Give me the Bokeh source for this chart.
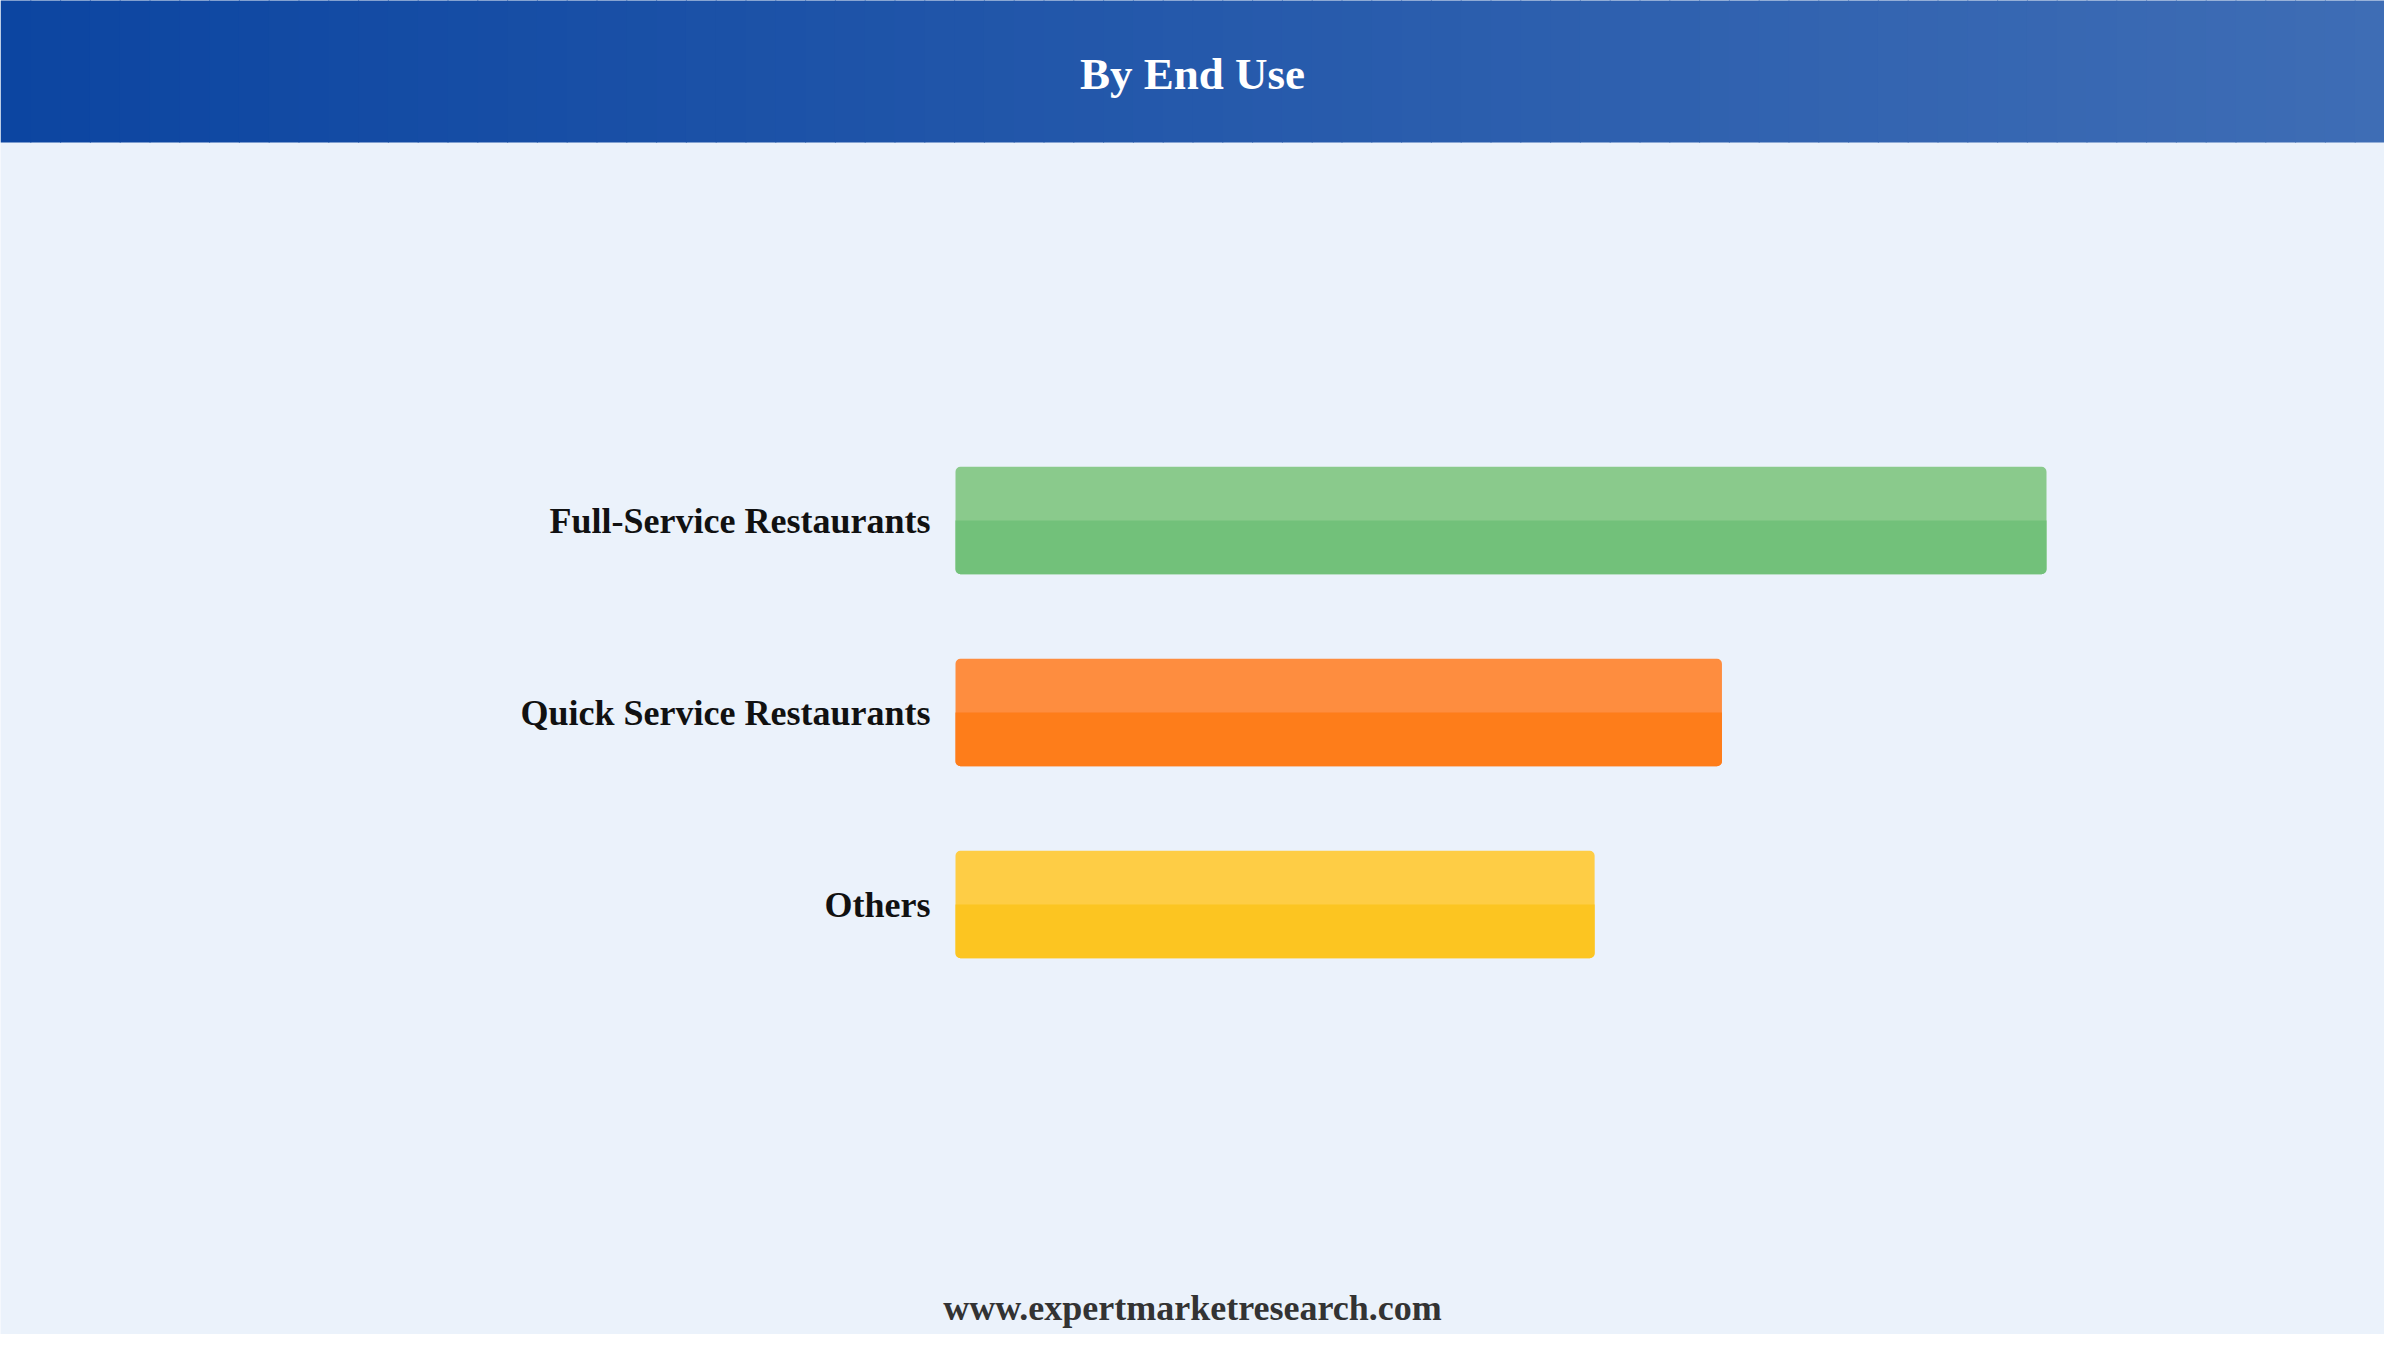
from bokeh.plotting import figure
from bokeh.models import FactorRange, Range1d, ColumnDataSource
from bokeh.transform import dodge
from bokeh.core.properties import value
from bokeh.embed import file_html
from bokeh.resources import INLINE

# ---- data ----
categories = ["Full-Service Restaurants", "Quick Service Restaurants", "Others"]
shares = [43.7, 30.7, 25.6]
top_colors = ["#8aca8c", "#fe8d3f", "#fecd45"]
bottom_colors = ["#72c17a", "#fe7d1a", "#fcc521"]
title_text = "By End Use"
footer_text = "www.expertmarketresearch.com"

W, H = 2384, 1334
BG = "#ebf2fb"
SERIF = "Liberation Serif"

# geometry (pixels)
bar_left_px = 955
px_per_unit = 1091 / 43.7
cat_px = 192.0
pad = (H / cat_px - 3) / 2
shift = -45 / cat_px
y_end = 3 + pad


def sx(px):
    return (px - bar_left_px) / px_per_unit


def sy(px):
    return y_end - px / cat_px


src = ColumnDataSource(dict(cat=categories, val=shares, top=top_colors, bot=bottom_colors))

p = figure(width=W, height=H, output_backend="svg", toolbar_location=None,
           y_range=FactorRange(factors=list(reversed(categories)),
                               range_padding=pad, range_padding_units="absolute"),
           x_range=Range1d(sx(0), sx(W)),
           min_border=0)
p.background_fill_color = BG
p.border_fill_color = BG
p.outline_line_color = None
p.grid.visible = False
p.xaxis.visible = False
p.yaxis.visible = False

# header gradient
c0 = (0x0c, 0x45, 0xa1)
c1 = (0x3e, 0x6d, 0xb5)
n = 80
lefts, rights, cols = [], [], []
for i in range(n):
    t = i / (n - 1)
    cols.append("#%02x%02x%02x" % tuple(int(round(a + (b - a) * t)) for a, b in zip(c0, c1)))
    lefts.append(sx(W * i / n))
    rights.append(sx(W * (i + 1) / n + 1))
p.quad(left=lefts, right=rights, top=sy(-2), bottom=sy(142), fill_color=cols, line_color=None)

p.text(x=[sx(W / 2)], y=[sy(73)], text=[title_text], text_font=value(SERIF),
       text_font_style="bold", text_font_size="45px", text_color="white",
       text_align="center", text_baseline="middle")
p.text(x=[sx(W / 2)], y=[sy(1307)], text=[footer_text], text_font=value(SERIF),
       text_font_style="bold", text_font_size="36px", text_color="#333333",
       text_align="center", text_baseline="middle")

# bars: full bar (lighter top colour), then darker lower half
p.hbar(y=dodge("cat", shift, range=p.y_range), right="val", left=0, height=0.56, source=src,
       fill_color="top", line_color=None, border_radius=5)
p.hbar(y=dodge("cat", shift - 0.14, range=p.y_range), right="val", left=0, height=0.28, source=src,
       fill_color="bot", line_color=None, border_radius=(0, 0, 5, 5))

# category labels
p.text(x=-25 / px_per_unit, y=dodge("cat", shift, range=p.y_range), text="cat", source=src,
       text_font=value(SERIF), text_font_style="bold", text_font_size="36px",
       text_color="#111111", text_align="right", text_baseline="middle")

open("out.html", "w").write(file_html(p, INLINE))
